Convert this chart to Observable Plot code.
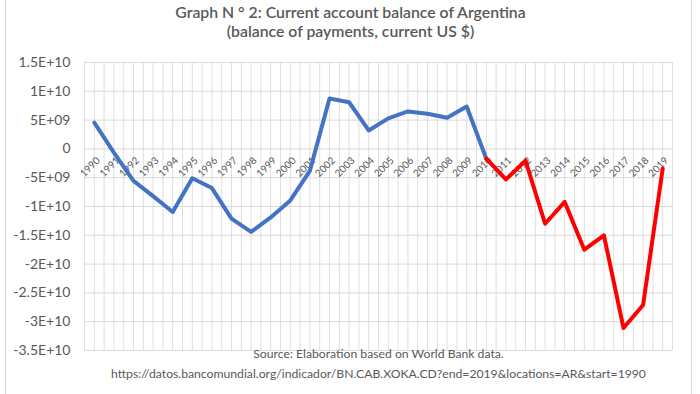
<!DOCTYPE html>
<html>
<head>
<meta charset="utf-8">
<script src="https://cdn.jsdelivr.net/npm/d3@7"></script>
<script src="https://cdn.jsdelivr.net/npm/@observablehq/plot@0.6"></script>
<style>
  body { margin: 0; background: #fff; }
  #wrap { position: relative; width: 700px; height: 394px; }
  .edge { position: absolute; top: 0; width: 1px; height: 394px; background: #d9d9d9; }
</style>
</head>
<body>
<div id="wrap">
  <div id="chart"></div>
  <div class="edge" style="left:5px"></div>
  <div class="edge" style="left:691px"></div>
</div>
<script>
// Data (current account balance of Argentina, current US$)
const years = [1990,1991,1992,1993,1994,1995,1996,1997,1998,1999,2000,2001,2002,2003,2004,2005,2006,2007,2008,2009,2010,2011,2012,2013,2014,2015,2016,2017,2018,2019];
const balance = [4.55e9,-0.65e9,-5.55e9,-8.2e9,-10.95e9,-5.1e9,-6.8e9,-12.1e9,-14.4e9,-11.9e9,-8.95e9,-3.8e9,8.75e9,8.1e9,3.2e9,5.3e9,6.5e9,6.1e9,5.4e9,7.35e9,-1.7e9,-5.3e9,-2.05e9,-13.0e9,-9.2e9,-17.5e9,-15.0e9,-31.1e9,-27.1e9,-3.4e9];
const splitYear = 2010;
const yTicks = [1.5e10,1e10,5e9,0,-5e9,-1e10,-1.5e10,-2e10,-2.5e10,-3e10,-3.5e10];
const yTickLabels = ["1.5E+10","1E+10","5E+09","0","-5E+09","-1E+10","-1.5E+10","-2E+10","-2.5E+10","-3E+10","-3.5E+10"];
const titleLines = ["Graph N ° 2: Current account balance of Argentina", "(balance of payments, current US $)"];
const sourceLines = ["Source: Elaboration based on World Bank data.", "https://datos.bancomundial.org/indicador/BN.CAB.XOKA.CD?end=2019&locations=AR&start=1990"];

const rows = years.map((y, i) => ({year: y, value: balance[i]}));
const early = rows.filter(d => d.year <= splitYear);
const late = rows.filter(d => d.year >= splitYear);
const vGrid = d3.range(years[0] - 0.5, years[years.length - 1] + 0.51, 0.5);

const font = "Lato, 'Open Sans', sans-serif";
const grey = "#595959";

const chart = Plot.plot({
  width: 700,
  height: 394,
  marginLeft: 84,
  marginRight: 28,
  marginTop: 62,
  marginBottom: 44,
  style: {fontFamily: font, background: "white"},
  x: {type: "linear", domain: [years[0] - 0.5, years[years.length - 1] + 0.5], axis: null},
  y: {domain: [-3.5e10, 1.5e10], axis: null},
  marks: [
    Plot.ruleX(vGrid, {stroke: "#dedede", strokeWidth: 1}),
    Plot.ruleY(yTicks, {stroke: "#d9d9d9", strokeWidth: 1}),
    Plot.axisY({ticks: yTicks, tickFormat: (d) => yTickLabels[yTicks.indexOf(d)], tickSize: 0, tickPadding: 14, fontSize: 14, color: grey, label: null, textAnchor: "end"}),
    Plot.text(years, {x: d => d, y: 0, text: d => String(d), rotate: -45, textAnchor: "end", lineAnchor: "middle", dx: 4, dy: 10, fontSize: 10, fill: grey}),
    Plot.line(early, {x: "year", y: "value", stroke: "#4472C4", strokeWidth: 4, strokeLinejoin: "round"}),
    Plot.line(late, {x: "year", y: "value", stroke: "#FF0000", strokeWidth: 4, strokeLinejoin: "round"}),
    Plot.text([titleLines[0]], {frameAnchor: "top", text: d => d, dx: -28, dy: -56, fontSize: 15.8, fill: grey, fontWeight: 600}),
    Plot.text([titleLines[1]], {frameAnchor: "top", text: d => d, dx: -28, dy: -37, fontSize: 15.8, fill: grey, fontWeight: 600}),
    Plot.text([sourceLines[0]], {frameAnchor: "bottom", text: d => d, dy: 7, fontSize: 12.2, fill: grey}),
    Plot.text([sourceLines[1]], {frameAnchor: "bottom", text: d => d, dy: 27, fontSize: 12.2, fill: grey})
  ]
});
document.getElementById("chart").appendChild(chart);
</script>
</body>
</html>
